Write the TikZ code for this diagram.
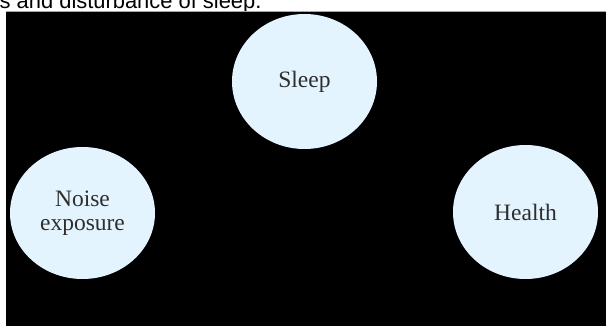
\documentclass[tikz,border=0pt]{standalone}
\usepackage{fontspec}
\setmainfont{Liberation Serif}
\newfontfamily\titlefont{Liberation Sans}
\usetikzlibrary{shapes.geometric}
\definecolor{bubble}{HTML}{E3F4FF}
\definecolor{bubbletext}{HTML}{2E2E2E}
\tikzset{
  bubblenode/.style={ellipse, fill=bubble, draw=none, inner sep=0pt,
    minimum width=145pt, minimum height=134pt, text=bubbletext,
    font=\fontsize{23.5}{24}\selectfont, align=center},
}
\begin{document}
\begin{tikzpicture}[x=1pt,y=-1pt]
  \useasboundingbox (0,0) rectangle (606,326);
  \clip (0,0) rectangle (606,326);
  \fill[white] (0,0) rectangle (606,326);
  \node[anchor=base west, inner sep=0pt, font=\titlefont\fontsize{21.9}{24}\selectfont] (title) at (-0.5,8.3) {s and disturbance of sleep.};
  \fill[black] (6,11.5) rectangle (606,326);
  \draw[gray!70, line width=0.6pt] (6,11.5) -- (606,11.5);
  \node[bubblenode, minimum height=135pt] (sleep) at (304.5,81.5) {Sleep};
  \node[bubblenode, minimum height=132pt] (noise) at (82.5,213) {Noise\\exposure};
  \node[bubblenode] (health) at (525.5,212) {Health};
\end{tikzpicture}
\end{document}
